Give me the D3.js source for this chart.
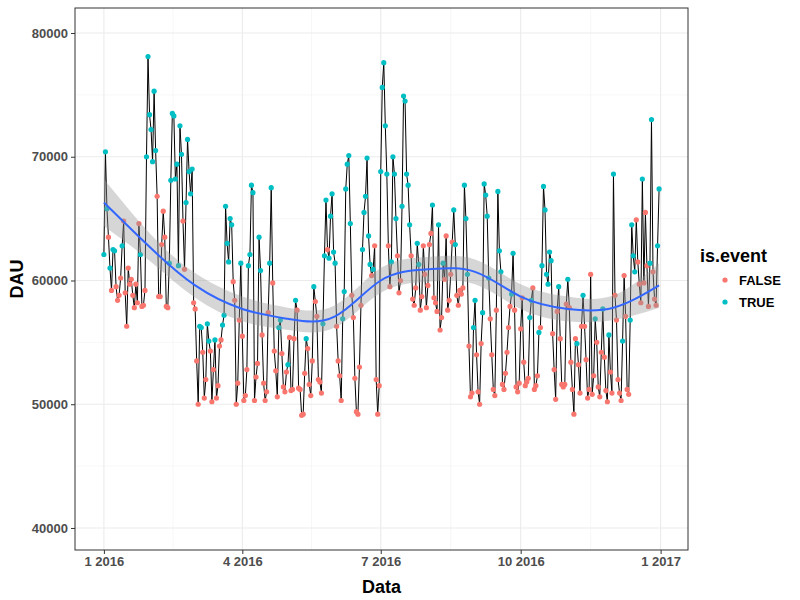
<!DOCTYPE html>
<html><head><meta charset="utf-8">
<script src="https://cdn.jsdelivr.net/npm/d3@7"></script>
<style>body{margin:0;background:#fff}</style></head>
<body><svg id="c" width="800" height="600"></svg>
<script>
// daily DAU values (T = event, F = no event), Jan..Dec 2016
const jan = "62100T 70400T 65800T 63500F 61000T 59200F 62500T 62400T 59500F 58400F 58800F 60200F 62800T 64800F 59000F 56300F 61000F 59700F 60100F 58800F 57800F 59700F 58200F 64600F 62100T 57900F 58000F 59200F 70000T 78100T 73400T";
const feb = "72200T 69600T 75300T 70500T 66800F 58700F 58700F 62900F 65600F 63500F 57900F 57800F 61400T 68100T 73500T 73300T 68200T 69400T 61200T 72500T 70200T 64800F 60900F 66300T 71400T 68800T 67000T 69000T 58200F";
const mar = "57700F 53500F 50000F 56300T 56200T 54200F 50500F 52000F 56500T 55100T 54300F 50200F 52800F 55200T 50500F 51500F 54700F 55200F 56400T 57200T 66000T 63000T 61500T 65000T 64500T 59900F 58400F 50000F 51700F 56800F 61400T";
const apr = "55500F 50300F 50700F 52800F 61200T 62100T 67700T 67100T 50300F 52200F 53300F 63500T 60800T 55600F 51700F 50300F 51000F 57400F 61400T 67500T 59800F 54300F 52700F 50600F 56200T 56800T 54100F 51400F 51000F 52600F";
const may = "53200T 55400F 51100F 51200F 55300F 58400T 57600F 51300F 51200F 49100F 49200F 52500F 55300T 54500F 51600F 50700F 53500F 59500T 58300F 57100F 52000F 51800F 50900F 56500T 62000T 66500T 62500F 61800T 65200T 67000T 62300T";
const jun = "61400T 56300F 53500F 52300F 50300F 56900T 59100T 67400T 69400T 70100T 64600T 58800F 57000F 52100F 49400F 49200F 53000F 58000F 62500T 65500T 66800T 69900T 63600T 61300T 60400F 60900T 62800F 52000F 49200F 51500F";
const jul = "68800T 75600T 77600T 72500T 68600T 62800F 59500F 61500T 70000T 68600T 65000T 62000F 59000F 60000F 66000T 74900T 74500T 68600T 67700T 64500T 62000F 58500F 58000F 59400F 63000T 61300T 57600F 58700F 62800F 60500F 57800F";
const aug = "59600F 62900F 63800F 66100T 58600F 58200F 57500F 64500T 56000F 57000F 61400T 60100F 63600F 57600F 58400F 60500F 63100F 65700T 62900T 58800F 58000F 59200F 58900F 59400F 67700T 65000T 60500T 54700F 50600F 50900F 56200T";
const sep = "58400T 54000F 51000F 50000F 54900F 57400T 67800T 66900T 65200T 60200T 56900F 54000F 51200F 50700F 57600F 67200T 62400T 60700T 51600F 51200F 52500F 54200F 56200F 57900F 58900T 62200T 57600F 51400F 51000F 51700F";
const oct = "56100F 58600F 53400F 51500F 51800F 52100F 57000T 58400T 59400F 51200F 51500F 52300F 55800T 56200F 61200T 67600T 65700T 60500T 59700T 62300T 61600T 55700F 52800F 50400F 57500F 59500T 55300F 51600F 51400F 51600F 58100F";
const nov = "60100T 57800F 53400F 51200F 49200F 55300F 54900T 53200F 50900F 56300F 58800T 56300F 53600F 50500F 51200F 60500F 50800F 52300F 56900T 55000F 51400F 50600F 54200F 57700T 53800F 51100F 50200F 55600T 52600F 50900F";
const dec = "68600T 58800F 56800F 52000F 50900F 50300F 55100T 60400F 57100F 51200F 50800F 56800T 64500T 62000T 60700T 64900F 61500F 59700F 58200F 68200T 59800F 65500F 61200F 57900F 61400T 73000T 60700F 58500F 58000F 62800T 67400T";
// loess smooth: date, fit, half-width of CI
const smoothDates = ["2016-01-01","2016-02-01","2016-03-01","2016-04-01","2016-05-01","2016-06-01","2016-07-01","2016-08-01","2016-09-01","2016-10-01","2016-11-01","2016-12-01","2016-12-31"];
const smoothFit = [66300,62600,59600,57700,56900,57100,60000,60900,60700,58700,57700,57800,59600];
const smoothSe = [1900,1100,1000,1000,900,900,1000,1000,1000,1000,1000,1000,1800];
const xTicks = ["2016-01-01","2016-04-01","2016-07-01","2016-10-01","2017-01-01"];
const xTickLabels = ["1 2016","4 2016","7 2016","10 2016","1 2017"];
const yTicks = [40000,50000,60000,70000,80000];

const parse = d3.timeParse("%Y-%m-%d");
const start = parse("2016-01-01");
const data = [jan,feb,mar,apr,may,jun,jul,aug,sep,oct,nov,dec].join(" ").split(/\s+/).map((s,i)=>({
  date: d3.timeDay.offset(start,i), v:+s.slice(0,-1), ev: s.slice(-1)==="T"}));

const svg = d3.select("#c");
const L=75,R=688,T=8,B=550;
const x = d3.scaleTime().domain([d3.timeDay.offset(start,-19), d3.timeDay.offset(start,384)]).range([L,R]);
const y = d3.scaleLinear().domain([38220,82020]).range([B,T]);

const g = svg.append("g");
const xt = xTicks.map(parse);
const xMinor = xt.slice(0,-1).map((d,i)=>new Date((+d + +xt[i+1])/2));
g.selectAll(".xm").data(xMinor).join("line").attr("x1",d=>x(d)).attr("x2",d=>x(d)).attr("y1",T).attr("y2",B).attr("stroke","#f2f2f2").attr("stroke-width",0.6);
g.selectAll(".ym").data([45000,55000,65000,75000]).join("line").attr("y1",d=>y(d)).attr("y2",d=>y(d)).attr("x1",L).attr("x2",R).attr("stroke","#f2f2f2").attr("stroke-width",0.6);
g.selectAll(".xg").data(xt).join("line").attr("x1",d=>x(d)).attr("x2",d=>x(d)).attr("y1",T).attr("y2",B).attr("stroke","#ebebeb").attr("stroke-width",1.1);
g.selectAll(".yg").data(yTicks).join("line").attr("y1",d=>y(d)).attr("y2",d=>y(d)).attr("x1",L).attr("x2",R).attr("stroke","#ebebeb").attr("stroke-width",1.1);

g.append("path").datum(data).attr("fill","none").attr("stroke","#000").attr("stroke-width",1)
 .attr("d",d3.line().x(d=>x(d.date)).y(d=>y(d.v)));
g.selectAll(".p").data(data).join("circle").attr("cx",d=>x(d.date)).attr("cy",d=>y(d.v)).attr("r",2.6)
 .attr("fill",d=>d.ev?"#00BFC4":"#F8766D");
const sm = smoothDates.map((d,i)=>({date:parse(d),f:smoothFit[i],s:smoothSe[i]}));
g.append("path").datum(sm).attr("fill","#999").attr("fill-opacity",0.4)
 .attr("d",d3.area().curve(d3.curveNatural).x(d=>x(d.date)).y0(d=>y(d.f-d.s)).y1(d=>y(d.f+d.s)));
g.append("path").datum(sm).attr("fill","none").attr("stroke","#3366FF").attr("stroke-width",2)
 .attr("d",d3.line().curve(d3.curveNatural).x(d=>x(d.date)).y(d=>y(d.f)));
svg.append("rect").attr("x",L).attr("y",T).attr("width",R-L).attr("height",B-T).attr("fill","none").attr("stroke","#333").attr("stroke-width",1);

const xa = svg.append("g").attr("transform",`translate(0,${B})`)
 .call(d3.axisBottom(x).tickValues(xt).tickFormat((d,i)=>xTickLabels[i]).tickSize(4).tickPadding(3));
const ya = svg.append("g").attr("transform",`translate(${L},0)`)
 .call(d3.axisLeft(y).tickValues(yTicks).tickFormat(d3.format("d")).tickSize(4).tickPadding(3));
[xa,ya].forEach(a=>{a.select(".domain").remove();a.selectAll("line").attr("stroke","#333");
 a.selectAll("text").attr("fill","#4d4d4d").attr("font-family","Arial, Liberation Sans, sans-serif").attr("font-size",13).attr("font-weight","bold");});
svg.append("text").attr("x",(L+R)/2).attr("y",593).attr("text-anchor","middle").attr("font-family","Arial, Liberation Sans, sans-serif").attr("font-size",18).attr("font-weight","bold").text("Data");
svg.append("text").attr("transform",`translate(23,${(T+B)/2}) rotate(-90)`).attr("text-anchor","middle").attr("font-family","Arial, Liberation Sans, sans-serif").attr("font-size",18).attr("font-weight","bold").text("DAU");
const lg = svg.append("g").attr("font-family","Arial, Liberation Sans, sans-serif");
lg.append("text").attr("x",700).attr("y",262).attr("font-size",18).attr("font-weight","bold").text("is.event");
[["FALSE","#F8766D"],["TRUE","#00BFC4"]].forEach((e,i)=>{
 lg.append("circle").attr("cx",725).attr("cy",280+i*22).attr("r",2.6).attr("fill",e[1]);
 lg.append("text").attr("x",739).attr("y",285+i*22).attr("font-size",13).attr("font-weight","bold").text(e[0]);
});
</script></body></html>
